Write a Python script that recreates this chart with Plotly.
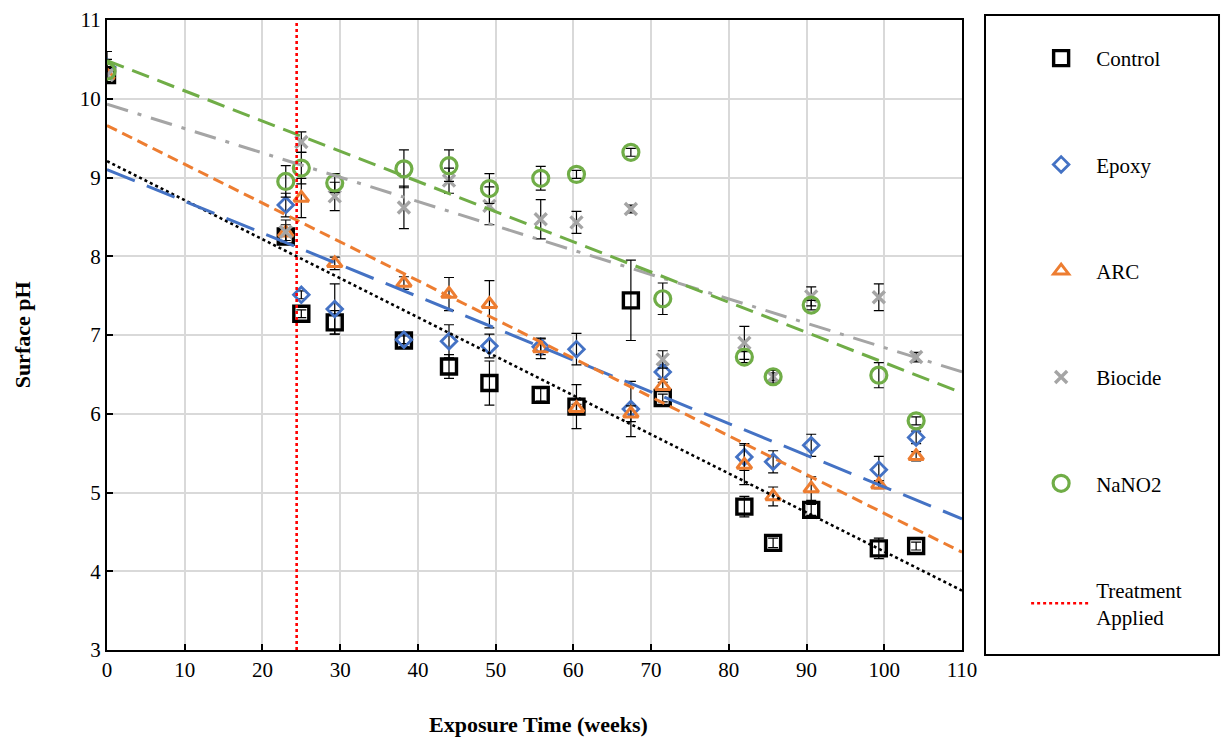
import numpy as np
import plotly.graph_objects as go

# ---------------- data ----------------
weeks = [0, 23, 25, 29.3, 38.2, 44, 49.2, 55.8, 60.4, 67.4, 71.5, 82, 85.7, 90.6, 99.3, 104.1]

control = [10.3, 8.25, 7.27, 7.16, 6.93, 6.60, 6.39, 6.24, 6.09, 7.44, 6.20, 4.82, 4.36, 4.78, 4.29, 4.32]
control_err = [0.1, 0.1, 0.05, 0.15, 0.08, 0.15, 0.28, 0.08, 0.28, 0.51, 0.05, 0.13, 0.06, 0.07, 0.13, 0.05]

epoxy = [10.4, 8.65, 7.51, 7.33, 6.94, 6.92, 6.86, 6.85, 6.82, 6.06, 6.53, 5.45, 5.39, 5.60, 5.29, 5.70]
epoxy_err = [0.2, 0.15, 0.05, 0.32, 0.05, 0.21, 0.15, 0.1, 0.2, 0.35, 0.09, 0.17, 0.14, 0.14, 0.17, 0.08]

arc = [10.3, 8.3, 8.74, 7.91, 7.66, 7.52, 7.39, 6.83, 6.07, 6.0, 6.35, 5.35, 4.95, 5.05, 5.10, 5.46]
arc_err = [0.05, 0.1, 0.25, 0.08, 0.08, 0.21, 0.3, 0.13, 0.05, 0.1, 0.05, 0.25, 0.12, 0.15, 0.05, 0.06]

biocide = [10.3, 8.31, 9.45, 8.76, 8.62, 8.96, 8.64, 8.47, 8.43, 8.60, 6.69, 6.90, 6.47, 7.49, 7.48, 6.72]
biocide_err = [0.1, 0.15, 0.13, 0.18, 0.27, 0.16, 0.24, 0.25, 0.14, 0.05, 0.11, 0.21, 0.05, 0.12, 0.17, 0.06]

nano2 = [10.35, 8.95, 9.12, 8.93, 9.11, 9.15, 8.86, 8.99, 9.04, 9.32, 7.46, 6.72, 6.47, 7.38, 6.49, 5.91]
nano2_err = [0.15, 0.2, 0.2, 0.12, 0.24, 0.2, 0.19, 0.15, 0.05, 0.05, 0.2, 0.07, 0.08, 0.06, 0.16, 0.05]

treatment_week = 24.4
x_ticks = list(range(0, 111, 10))
y_ticks = list(range(3, 12))
trend_x = [0, 110]

FONT = "Liberation Serif, Times New Roman, serif"

series = [
    dict(name="Control", y=control, err=control_err, color="#000000",
         symbol="square-open", size=15, lw=3.4, dash="dot", tw=2.6),
    dict(name="Epoxy", y=epoxy, err=epoxy_err, color="#4472C4",
         symbol="diamond-open", size=12, lw=2.8, dash="30px,13px", tw=3),
    dict(name="ARC", y=arc, err=arc_err, color="#ED7D31",
         symbol="triangle-up-open", size=13, lw=3, dash="11px,6px", tw=3),
    dict(name="Biocide", y=biocide, err=biocide_err, color="#A5A5A5",
         symbol="x-thin-open", size=12, lw=3.4, dash="22px,10px,4px,10px", tw=3),
    dict(name="NaNO2", y=nano2, err=nano2_err, color="#70AD47",
         symbol="circle-open", size=16, lw=3.2, dash="18px,9px", tw=3),
]

fig = go.Figure()

for i, s in enumerate(series):
    fig.add_trace(go.Scatter(
        x=weeks, y=s["y"], mode="markers", name=s["name"],
        legendgroup=f"g{i}", legendrank=i,
        marker=dict(symbol=s["symbol"], size=s["size"], color=s["color"],
                    line=dict(width=s["lw"], color=s["color"])),
        error_y=dict(type="data", array=s["err"], visible=True,
                     color="#000000", thickness=1.2, width=5),
    ))

# linear trendlines
for i, s in enumerate(series):
    m, b = np.polyfit(weeks, s["y"], 1)
    ty = [m * xx + b for xx in trend_x]
    fig.add_trace(go.Scatter(
        x=trend_x, y=ty, mode="lines", showlegend=False, hoverinfo="skip",
        line=dict(color=s["color"], width=s["tw"], dash=s["dash"]),
    ))

# treatment applied line
fig.add_trace(go.Scatter(
    x=[treatment_week, treatment_week], y=[y_ticks[0], y_ticks[-1]],
    mode="lines", name="Treatment<br>Applied", legendgroup="g5", legendrank=5,
    line=dict(color="#FF0000", width=2.6, dash="dot"),
))

# legend box
fig.add_shape(type="rect", xref="paper", yref="paper",
              x0=1.0269, x1=1.3006, y0=-0.0079, y1=1.0079,
              line=dict(color="#000000", width=2), fillcolor="rgba(0,0,0,0)")

# axis titles
fig.add_annotation(text="<b>Exposure Time (weeks)</b>", xref="paper", yref="paper",
                   x=0.505, y=-0.119, xanchor="center", yanchor="middle",
                   showarrow=False, font=dict(family=FONT, size=22))
fig.add_annotation(text="<b>Surface pH</b>", xref="paper", yref="paper",
                   x=-0.099, y=0.5, xanchor="center", yanchor="middle",
                   textangle=-90, showarrow=False, font=dict(family=FONT, size=22))

fig.update_layout(
    width=1221, height=740,
    margin=dict(l=107, r=259, t=20, b=90, autoexpand=False),
    plot_bgcolor="white", paper_bgcolor="white",
    font=dict(family=FONT, size=20, color="#000000"),
    showlegend=True,
    legend=dict(x=1.075, y=0.9715, xanchor="left", yanchor="top",
                bgcolor="rgba(0,0,0,0)", borderwidth=0,
                tracegroupgap=76, itemwidth=60,
                font=dict(family=FONT, size=21, color="#000000")),
    xaxis=dict(range=[0, 110], tickvals=x_ticks, ticktext=[str(v) for v in x_ticks],
               showgrid=True, gridcolor="#D9D9D9", gridwidth=1.5,
               showline=True, linecolor="#000000", linewidth=2, mirror=True,
               ticks="inside", ticklen=6, tickcolor="#000000", tickwidth=1.5,
               zeroline=False, automargin=False,
               tickfont=dict(family=FONT, size=21)),
    yaxis=dict(range=[3, 11], tickvals=y_ticks, ticktext=[str(v) for v in y_ticks],
               showgrid=True, gridcolor="#D9D9D9", gridwidth=1.5,
               showline=True, linecolor="#000000", linewidth=2, mirror=True,
               ticks="inside", ticklen=6, tickcolor="#000000", tickwidth=1.5,
               zeroline=False, automargin=False,
               tickfont=dict(family=FONT, size=21)),
)

fig.write_html("out.html")
